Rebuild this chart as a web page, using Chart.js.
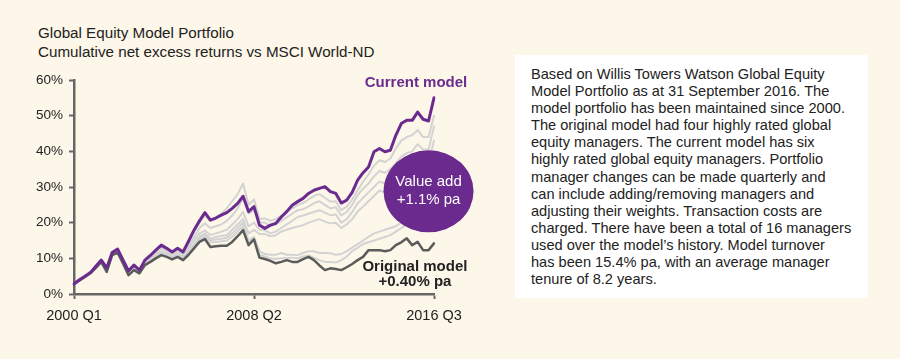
<!DOCTYPE html>
<html>
<head>
<meta charset="utf-8">
<script src="https://cdn.jsdelivr.net/npm/chart.js@4.4.0/dist/chart.umd.min.js"></script>
<style>
  body { margin: 0; background: #fdf7e9; font-family: "Liberation Sans", Arial, sans-serif; color: #222; }
  #wrap { position: relative; width: 900px; height: 359px; overflow: hidden; }
  #title { position: absolute; left: 38px; top: 23px; font-size: 15.2px; line-height: 19px; white-space: nowrap; }
  #chart-box { position: absolute; left: 0; top: 0; width: 500px; height: 359px; }
  #note { position: absolute; left: 515px; top: 55px; width: 353px; height: 243px; background: #fff;
    box-sizing: border-box; padding: 11px 0 0 16px; font-size: 14.6px; line-height: 17.1px; white-space: nowrap; }
</style>
</head>
<body>
<div id="wrap">
  <div id="title">Global Equity Model Portfolio<br>Cumulative net excess returns vs MSCI World-ND</div>
  <div id="chart-box"><canvas id="portfolio-chart"></canvas></div>
  <div id="note">Based on Willis Towers Watson Global Equity<br>Model Portfolio as at 31 September 2016. The<br>model portfolio has been maintained since 2000.<br>The original model had four highly rated global<br>equity managers. The current model has six<br>highly rated global equity managers. Portfolio<br>manager changes can be made quarterly and<br>can include adding/removing managers and<br>adjusting their weights. Transaction costs are<br>charged. There have been a total of 16 managers<br>used over the model’s history. Model turnover<br>has been 15.4% pa, with an average manager<br>tenure of 8.2 years.</div>
</div>
<script>
// ДАННЫЕ
const quarters = [
  "2000 Q1", "2000 Q2", "2000 Q3", "2000 Q4", "2001 Q1", "2001 Q2", "2001 Q3", "2001 Q4",
  "2002 Q1", "2002 Q2", "2002 Q3", "2002 Q4", "2003 Q1", "2003 Q2", "2003 Q3", "2003 Q4",
  "2004 Q1", "2004 Q2", "2004 Q3", "2004 Q4", "2005 Q1", "2005 Q2", "2005 Q3", "2005 Q4",
  "2006 Q1", "2006 Q2", "2006 Q3", "2006 Q4", "2007 Q1", "2007 Q2", "2007 Q3", "2007 Q4",
  "2008 Q1", "2008 Q2", "2008 Q3", "2008 Q4", "2009 Q1", "2009 Q2", "2009 Q3", "2009 Q4",
  "2010 Q1", "2010 Q2", "2010 Q3", "2010 Q4", "2011 Q1", "2011 Q2", "2011 Q3", "2011 Q4",
  "2012 Q1", "2012 Q2", "2012 Q3", "2012 Q4", "2013 Q1", "2013 Q2", "2013 Q3", "2013 Q4",
  "2014 Q1", "2014 Q2", "2014 Q3", "2014 Q4", "2015 Q1", "2015 Q2", "2015 Q3", "2015 Q4",
  "2016 Q1", "2016 Q2", "2016 Q3",
];
const xTickLabels = ["2000 Q1", "2008 Q2", "2016 Q3"];

const currentModel = [
  2.8, 4.0, 5.0, 6.0, 7.8, 9.5, 7.3, 11.6, 12.6, 9.5, 6.5, 8.1, 6.7, 9.5, 10.8, 12.3, 13.7,
  12.8, 11.8, 12.8, 11.8, 14.8, 17.9, 20.5, 22.8, 20.7, 21.3, 22.1, 22.8, 24.0, 25.4, 27.4,
  23.1, 24.5, 19.3, 18.4, 19.3, 19.8, 21.6, 23.1, 24.9, 25.9, 26.8, 28.2, 29.1, 29.6, 30.1,
  28.7, 28.2, 25.5, 26.3, 28.5, 31.9, 34.0, 35.6, 39.9, 40.8, 39.9, 40.3, 44.5, 47.8, 48.7,
  48.7, 51.0, 49.0, 48.5, 55.0,
];
const originalModel = [
  2.8, 3.8, 4.8, 5.8, 7.3, 9.0, 6.2, 10.9, 11.6, 8.5, 5.3, 6.7, 5.8, 8.1, 9.0, 10.0, 10.9,
  10.4, 9.7, 10.4, 9.5, 11.0, 12.8, 14.6, 15.4, 13.2, 13.4, 13.5, 13.5, 14.6, 16.2, 17.9,
  13.7, 15.3, 10.2, 9.8, 9.3, 8.6, 9.0, 9.5, 9.0, 9.0, 9.8, 10.4, 9.5, 8.0, 6.7,
  7.2, 7.0, 6.7, 7.5, 8.4, 9.5, 10.4, 12.3, 12.3, 12.3, 12.0, 12.3, 13.7, 14.5, 15.6,
  13.7, 14.6, 12.3, 12.3, 14.2,
];
// промежуточные составы модели
const interimA = [
  2.8, 4.0, 5.0, 6.0, 7.6, 9.3, 7.0, 11.3, 12.3, 9.2, 6.2, 7.8, 6.4, 9.2, 10.5, 12.0, 13.4,
  12.5, 11.5, 12.4, 11.5, 14.5, 17.5, 20.0, 22.0, 20.5, 21.5, 22.5, 24.0, 26.0, 28.0, 31.0,
  25.0, 26.5, 21.0, 21.2, 20.5, 21.0, 22.0, 23.0, 24.0, 24.9, 25.5, 26.5, 27.5, 28.0, 27.0,
  25.9, 26.0, 23.5, 24.5, 26.5, 29.1, 31.5, 33.5, 36.0, 37.5, 37.0, 38.0, 40.8, 43.0, 44.0,
  44.5, 46.0, 44.0, 44.0, 50.0,
];
const interimB = [
  2.8, 3.9, 4.9, 5.9, 7.5, 9.2, 6.8, 11.2, 12.0, 9.0, 6.0, 7.5, 6.2, 8.9, 10.0, 11.5, 12.8,
  12.0, 11.0, 11.8, 11.0, 13.5, 16.0, 18.5, 19.8, 18.5, 19.0, 19.5, 20.5, 22.0, 24.0, 27.0,
  22.5, 23.5, 20.2, 20.0, 19.0, 19.5, 20.5, 21.5, 22.5, 23.5, 23.8, 24.5, 25.5, 26.0, 25.0,
  24.0, 24.3, 22.0, 23.0, 25.0, 27.7, 29.5, 31.0, 33.0, 34.5, 34.0, 35.0, 36.6, 38.5, 39.5,
  40.0, 42.0, 40.5, 40.5, 47.0,
];
const interimC = [
  2.8, 3.9, 4.9, 5.9, 7.5, 9.1, 6.6, 11.0, 11.8, 8.8, 5.8, 7.2, 6.0, 8.6, 9.6, 11.0, 12.0,
  11.5, 10.5, 11.2, 10.5, 12.8, 15.0, 17.0, 17.8, 16.5, 17.0, 17.5, 18.0, 19.5, 21.0, 23.0,
  19.0, 20.0, 18.0, 17.9, 17.0, 17.5, 18.5, 19.5, 20.5, 21.6, 22.0, 22.5, 23.0, 23.5, 22.8,
  22.1, 22.3, 20.0, 21.0, 23.0, 25.4, 27.0, 28.5, 30.0, 31.5, 31.0, 31.5, 32.9, 34.5, 35.5,
  36.0, 38.0, 37.0, 37.0, 43.0,
];
const interimD = [
  2.8, 3.8, 4.8, 5.8, 7.4, 9.0, 6.5, 11.0, 11.7, 8.7, 5.6, 7.0, 5.9, 8.4, 9.4, 10.6, 11.6,
  11.0, 10.2, 10.8, 10.0, 12.0, 14.0, 16.0, 17.0, 15.5, 16.0, 16.3, 16.5, 18.0, 19.5, 21.0,
  17.0, 18.0, 16.8, 16.8, 16.2, 16.5, 17.5, 18.0, 18.5, 18.9, 19.3, 20.0, 20.5, 21.0, 20.3,
  19.8, 20.0, 18.5, 19.5, 21.0, 23.1, 24.5, 26.0, 27.5, 29.0, 28.5, 29.5, 31.0, 32.0, 33.0,
  33.5, 35.0, 34.0, 34.0, 40.0,
];
const interimE = [
  2.8, 3.8, 4.8, 5.8, 7.4, 9.0, 6.4, 11.0, 11.6, 8.6, 5.5, 6.9, 5.9, 8.3, 9.2, 10.3, 11.3,
  10.8, 10.0, 10.6, 9.8, 11.5, 13.5, 15.5, 16.5, 15.0, 15.3, 15.5, 15.8, 17.0, 18.5, 20.0,
  15.0, 16.0, 12.0, 11.2, 11.0, 11.0, 11.5, 11.0, 11.0, 10.9, 11.5, 12.0, 12.0, 11.5, 11.5,
  11.4, 11.0, 11.2, 12.0, 13.0, 14.0, 15.0, 16.0, 17.0, 17.5, 18.0, 18.5, 19.0, 20.0, 21.5,
  22.5, 25.0, 27.0, 28.0, 38.0,
];
const interimF = [
  2.8, 3.8, 4.8, 5.8, 7.3, 9.0, 6.3, 10.9, 11.6, 8.5, 5.4, 6.8, 5.8, 8.2, 9.1, 10.2, 11.1,
  10.6, 9.9, 10.5, 9.6, 11.2, 13.0, 15.0, 16.0, 14.5, 14.5, 14.8, 15.0, 16.0, 17.5, 19.0,
  14.5, 15.8, 11.0, 10.5, 10.0, 9.8, 10.0, 10.0, 10.2, 10.0, 10.5, 10.8, 10.2, 9.5, 9.0,
  9.0, 8.8, 9.5, 10.5, 12.0, 13.0, 14.0, 14.5, 15.0, 15.5, 16.0, 16.5, 17.5, 18.5, 19.5,
  20.0, 22.0, 23.0, 24.0, 31.0,
];

const PURPLE = "#6b2b8e";
const DARK = "#5b5b5b";
const LIGHT = "#d3d3d3";

function lineSet(label, data, color, width) {
  return {
    label: label,
    data: data,
    borderColor: color,
    borderWidth: width,
    pointRadius: 0,
    tension: 0,
    borderJoinStyle: "round",
    borderCapStyle: "round",
    fill: false,
  };
}

// ПОДПИСИ НА ГРАФИКЕ
const labelsPlugin = {
  id: "labelsPlugin",
  afterDatasetsDraw(chart) {
    const ctx = chart.ctx;
    const x = chart.scales.x;
    const y = chart.scales.y;
    ctx.save();

    // кружок
    const cx = x.getPixelForValue(65);
    const cy = y.getPixelForValue(28.8);
    ctx.beginPath();
    ctx.ellipse(cx, cy, 45, 41, 0, 0, Math.PI * 2);
    ctx.fillStyle = "#6b2a8d";
    ctx.fill();
    ctx.fillStyle = "#fff";
    ctx.textAlign = "center";
    ctx.textBaseline = "middle";
    ctx.font = "15px 'Liberation Sans Narrow', 'Liberation Sans', Arial";
    ctx.fillText("Value add", cx, cy - 9);
    ctx.fillText("+1.1% pa", cx, cy + 9);

    ctx.font = "bold 15px 'Liberation Sans', Arial";
    ctx.fillStyle = PURPLE;
    ctx.fillText("Current model", x.getPixelForValue(62.7), y.getPixelForValue(59.2));
    ctx.fillStyle = "#222";
    ctx.fillText("Original model", x.getPixelForValue(62.5), y.getPixelForValue(7.6));
    ctx.fillText("+0.40% pa", x.getPixelForValue(62.5), y.getPixelForValue(3.3));
    ctx.restore();
  },
};

const portfolioChart = document.getElementById("portfolio-chart");

new Chart(portfolioChart, {
  type: "line",
  data: {
    labels: quarters,
    datasets: [
      lineSet("Current model", currentModel, PURPLE, 3),
      lineSet("Original model", originalModel, DARK, 2.5),
      lineSet("Interim A", interimA, LIGHT, 2),
      lineSet("Interim B", interimB, LIGHT, 2),
      lineSet("Interim C", interimC, LIGHT, 2),
      lineSet("Interim D", interimD, LIGHT, 2),
      lineSet("Interim E", interimE, LIGHT, 2),
      lineSet("Interim F", interimF, LIGHT, 2),
    ],
  },
  options: {
    responsive: true,
    maintainAspectRatio: false,
    animation: false,
    layout: {
      padding: { left: 0, top: 80, right: 66, bottom: 35 },
    },
    plugins: {
      legend: { display: false },
      tooltip: { enabled: false },
    },
    scales: {
      x: {
        afterFit(scale) {
          scale.height = 30;
        },
        grid: {
          drawOnChartArea: false,
          tickLength: 5,
          tickWidth: 2,
          color: (c) => (xTickLabels.includes(quarters[c.index]) ? "#666" : "transparent"),
        },
        border: { color: "#666", width: 2.5 },
        ticks: {
          autoSkip: false,
          maxRotation: 0,
          padding: 8,
          color: "#222",
          font: { family: "Liberation Sans", size: 14.5 },
          callback: (v, i) => (xTickLabels.includes(quarters[i]) ? quarters[i] : ""),
        },
      },
      y: {
        min: 0,
        max: 60,
        afterFit(scale) {
          scale.width = 74;
        },
        grid: {
          drawOnChartArea: false,
          tickLength: 5,
          tickWidth: 2,
          color: "#666",
        },
        border: { color: "#666", width: 2.5 },
        ticks: {
          stepSize: 10,
          padding: 6,
          color: "#222",
          font: { family: "Liberation Sans", size: 13.5 },
          callback: (v) => v + "%",
        },
      },
    },
  },
  plugins: [labelsPlugin],
});
</script>
</body>
</html>
